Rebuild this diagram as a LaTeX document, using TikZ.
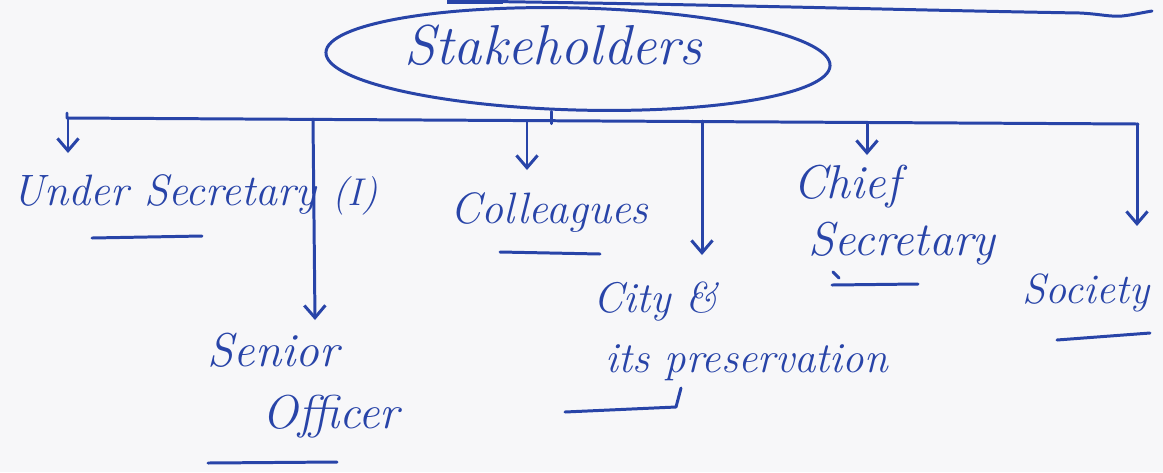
\documentclass[tikz,border=0pt]{standalone}
\usetikzlibrary{shapes.geometric,arrows.meta}
\definecolor{ink}{RGB}{40,68,168}
\definecolor{paper}{RGB}{247,247,249}
\begin{document}
\begin{tikzpicture}[x=0.01cm,y=-0.01cm,
  pen/.style={draw=ink,line width=0.85pt,line cap=round,line join=round},
  arr/.style={pen,-{Straight Barb[length=3.5pt,width=6pt]}},
  lbl/.style={text=ink,font=\fontsize{12.5}{16}\selectfont\itshape,inner sep=0pt,anchor=base west,align=left},
  ul/.style={pen}]
\fill[paper] (0,0) rectangle (1163,472);
\useasboundingbox (0,0) rectangle (1163,472);
% stray stroke at top
\draw[draw=ink,line width=1.5pt] (447,1) -- (503,1);
\draw[pen] (452,1) .. controls (700,4) and (900,10) .. (1080,13)
  .. controls (1100,14) and (1110,17) .. (1122,16)
  .. controls (1132,15) and (1140,13) .. (1152,11);
% root
\node[pen,ellipse,minimum width=5.04cm,minimum height=1.02cm,rotate=-1.5,inner sep=0pt] (sh) at (578,59) {};
\node[lbl,font=\fontsize{16}{18}\selectfont\itshape] (sht) at (404,64) {Stakeholders};
% bus
\coordinate (busL) at (67,118);
\coordinate (busR) at (1138,124);
\draw[pen] ([yshift=0.05cm]busL) -- (busL) -- (busR);
\draw[pen] ([xshift=-0.25cm]sh.south) -- ++(0,12);
% drop points and arrow ends
\coordinate (dUS) at (68,118);   \coordinate (eUS) at (68,153);
\coordinate (dSO) at (313,119);  \coordinate (eSO) at (315,320);
\coordinate (dCO) at (527,121);  \coordinate (eCO) at (527,170);
\coordinate (dCI) at (702,121);  \coordinate (eCI) at (702,255);
\coordinate (dCH) at (867,123);  \coordinate (eCH) at (867,155);
\coordinate (dSC) at (1137,124); \coordinate (eSC) at (1137,226);
\foreach \n in {US,SO,CO,CI,CH,SC} \draw[arr] (d\n) -- (e\n);
% labels
\node[lbl] (us) at (12,205) {Under Secretary {\fontsize{11}{12}\selectfont(I)}};
\node[lbl] (co) at (450,223) {Colleagues};
\node[lbl,font=\fontsize{13.5}{16}\selectfont\itshape] (ch) at (793,255) {Chief\\\hspace{4.3pt}Secretary};
\node[lbl,font=\fontsize{12.2}{17}\selectfont\itshape] (ci) at (593,372) {City \&\\\hspace{3.4pt}its preservation};
\node[lbl,font=\fontsize{12}{14}\selectfont\itshape] (sc) at (1022,303) {Society};
\node[lbl,font=\fontsize{13.5}{17.4}\selectfont\itshape] (so) at (207,428) {Senior\\\hspace{15.6pt}Officer};
% underlines
\draw[ul] (92,238) -- (202,236);
\draw[ul] (500,252) -- (600,254);
\draw[ul] (833,272) -- (839,278);
\draw[ul] (832,285) -- (918,284);
\draw[ul] (565,412) -- (676,407) -- (681,388);
\draw[ul] (1057,340) -- (1150,333);
\draw[ul] (208,463) -- (337,462);
\end{tikzpicture}
\end{document}
